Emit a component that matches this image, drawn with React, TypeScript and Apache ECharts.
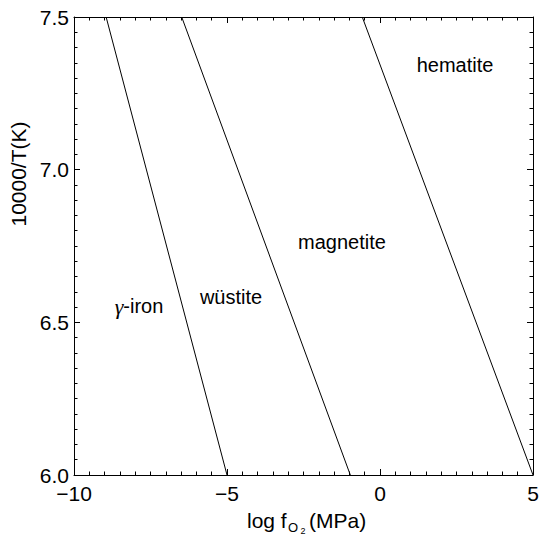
import React, { useEffect, useRef } from "react";
import * as echarts from "echarts";

// Axis ranges and ticks
const xMin = -10;
const xMax = 5;
const xStep = 5;
const yMin = 6.0;
const yMax = 7.5;
const yStep = 0.5;

// Phase boundaries: x (log fO2) at 10000/T = 6.0 and at 7.5
const boundaryY = [6.0, 7.5];
const ironWustiteX = [-5.0, -8.95];
const wustiteMagnetiteX = [-0.97, -6.48];
const magnetiteHematiteX = [5.0, -0.58];

const FONT = "'Liberation Sans', Arial, Helvetica, sans-serif";

const fmtX = (v: number) => String(v).replace("-", "\u2212");
const fmtY = (v: number) => v.toFixed(1);

function axisCommon(showLabel: boolean) {
  return {
    axisLine: { show: true, onZero: false, lineStyle: { color: "#000", width: 1 } },
    axisTick: { show: true, inside: true, length: 6, lineStyle: { color: "#000", width: 1 } },
    minorTick: { show: true, splitNumber: 10, length: 3.5, lineStyle: { color: "#000", width: 1 } },
    splitLine: { show: false },
    minorSplitLine: { show: false },
    axisLabel: { show: showLabel, color: "#000", fontSize: 21, fontFamily: FONT },
  };
}

export default function App() {
  const ref = useRef<HTMLDivElement>(null);
  useEffect(() => {
    if (!ref.current) return;
    const chart = echarts.init(ref.current, undefined, { renderer: "svg" });
    const mkLine = (xs: number[], name: string) => ({
      type: "line",
      name,
      data: boundaryY.map((y, i) => [xs[i], y]),
      showSymbol: false,
      symbol: "none",
      lineStyle: { color: "#000", width: 1 },
      xAxisIndex: 0,
      yAxisIndex: 0,
      silent: true,
    });
    const bottomX: any = { ...axisCommon(true), type: "value", position: "bottom", min: xMin, max: xMax, interval: xStep };
    bottomX.axisLabel = { ...bottomX.axisLabel, margin: 8, formatter: fmtX };
    const topX: any = { ...axisCommon(false), type: "value", position: "top", min: xMin, max: xMax, interval: xStep };
    const leftY: any = { ...axisCommon(true), type: "value", position: "left", min: yMin, max: yMax, interval: yStep };
    leftY.axisLabel = { ...leftY.axisLabel, margin: 5, formatter: fmtY };
    const rightY: any = { ...axisCommon(false), type: "value", position: "right", min: yMin, max: yMax, interval: yStep };

    const txt = (text: string, x: number, y: number, extra: any = {}) => ({
      type: "text",
      x,
      y,
      silent: true,
      style: { text, fill: "#000", fontSize: 20, fontFamily: FONT, align: "center", verticalAlign: "middle", ...extra },
    });

    chart.setOption({
      animation: false,
      backgroundColor: "#fff",
      grid: { left: 74, right: 15, top: 17, bottom: 61, containLabel: false, outerBoundsMode: "none" },
      xAxis: [bottomX, topX],
      yAxis: [leftY, rightY],
      series: [
        mkLine(ironWustiteX, "γ-iron / wüstite"),
        mkLine(wustiteMagnetiteX, "wüstite / magnetite"),
        mkLine(magnetiteHematiteX, "magnetite / hematite"),
      ],
      graphic: [
        {
          type: "text",
          x: 139,
          y: 306,
          silent: true,
          style: {
            text: "{g|γ}-iron",
            fill: "#000",
            fontSize: 20,
            fontFamily: FONT,
            align: "center",
            verticalAlign: "middle",
            rich: { g: { fontFamily: "'Liberation Serif', 'DejaVu Serif', serif", fontStyle: "italic", fontSize: 22 } },
          },
        },
        txt("wüstite", 231, 297),
        txt("magnetite", 342, 242),
        txt("hematite", 455, 65),
        // y-axis title
        {
          type: "text",
          x: 18,
          y: 174,
          rotation: Math.PI / 2,
          silent: true,
          style: { text: "10000/T(K)", fill: "#000", fontSize: 21, fontFamily: FONT, align: "center", verticalAlign: "middle" },
        },
        // x-axis title: log f_{O_2} (MPa)
        txt("log f", 247, 520, { align: "left", fontSize: 21 }),
        txt("O", 288, 527.5, { align: "left", fontSize: 13 }),
        txt("2", 300.5, 530.5, { align: "left", fontSize: 9 }),
        txt("(MPa)", 309, 520, { align: "left", fontSize: 21 }),
      ],
    });
    return () => chart.dispose();
  }, []);
  return <div ref={ref} style={{ position: "fixed", left: 0, top: 0, width: 548, height: 536 }} />;
}
